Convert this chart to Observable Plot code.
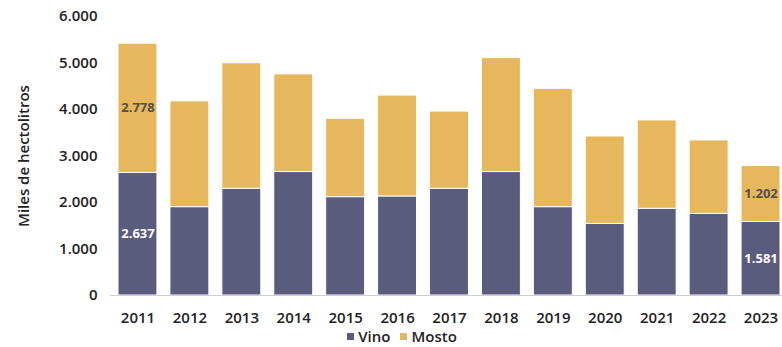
<!DOCTYPE html>
<html>
<head>
<meta charset="utf-8">
<script src="https://cdn.jsdelivr.net/npm/d3@7"></script>
<script src="https://cdn.jsdelivr.net/npm/@observablehq/plot@0.6"></script>
<style>
  html, body { margin: 0; padding: 0; background: #fff; }
  body { width: 782px; height: 347px; overflow: hidden; font-family: "Open Sans", sans-serif; }
  #legend { display: flex; justify-content: center; gap: 10px; font-size: 15px; font-weight: 600; color: #222; margin-left: 22px; margin-top: -1px; line-height: 18px; }
  #legend span.item { display: inline-flex; align-items: center; }
  #legend span.sw { width: 7px; height: 7px; display: inline-block; margin-right: 4px; }
</style>
</head>
<body>
<div id="chart"></div>
<div id="legend"></div>
<script>
const years = ["2011","2012","2013","2014","2015","2016","2017","2018","2019","2020","2021","2022","2023"];
const vino  = [2637, 1900, 2295, 2655, 2115, 2130, 2295, 2655, 1900, 1540, 1865, 1755, 1581];
const mosto = [2778, 2275, 2700, 2100, 1685, 2170, 1660, 2450, 2545, 1880, 1900, 1580, 1202];
const series = ["Vino", "Mosto"];
const colors = ["#5b5b7e", "#e6b75c"];
const labelled = ["2011", "2023"];
const yTicks = [0, 1000, 2000, 3000, 4000, 5000, 6000];

const fmt = v => d3.format(",")(v).replace(/,/g, ".");

const data = [];
years.forEach((y, i) => {
  data.push({year: y, serie: "Vino", value: vino[i], label: labelled.includes(y) ? fmt(vino[i]) : null});
  data.push({year: y, serie: "Mosto", value: mosto[i], label: labelled.includes(y) ? fmt(mosto[i]) : null});
});

const chart = Plot.plot({
  width: 782,
  height: 328,
  marginLeft: 110,
  marginRight: 0,
  marginTop: 16,
  marginBottom: 33,
  style: {fontFamily: "Open Sans, sans-serif", color: "#222", background: "#fff"},
  x: {domain: years, paddingInner: 0.25, paddingOuter: 0.0963, align: 0.8, round: false, label: null},
  y: {domain: [0, 6000], label: null},
  color: {domain: series, range: colors},
  marks: [
    Plot.barY(data, Plot.stackY({x: "year", y: "value", fill: "serie", stroke: "white", strokeWidth: 1})),
    Plot.ruleY([0], {stroke: "#cfcfcf", strokeWidth: 1}),
    Plot.text(data, Plot.stackY({x: "year", y: "value", text: "label",
      fill: d => d.serie === "Vino" ? "#ffffff" : "#555049",
      fontSize: 13, fontWeight: 700})),
    Plot.axisX({tickSize: 0, tickPadding: 17, fontSize: 15, fontWeight: 600, label: null}),
    Plot.axisY({ticks: yTicks, tickSize: 0, tickPadding: 13, tickFormat: fmt, fontSize: 15, fontWeight: 600,
      label: "Miles de hectolitros", labelAnchor: "center", labelOffset: 92, labelArrow: "none"})
  ]
});
document.getElementById("chart").appendChild(chart);

const legend = document.getElementById("legend");
series.forEach((s, i) => {
  const item = document.createElement("span");
  item.className = "item";
  const sw = document.createElement("span");
  sw.className = "sw";
  sw.style.background = colors[i];
  item.appendChild(sw);
  item.appendChild(document.createTextNode(s));
  legend.appendChild(item);
});
</script>
</body>
</html>
